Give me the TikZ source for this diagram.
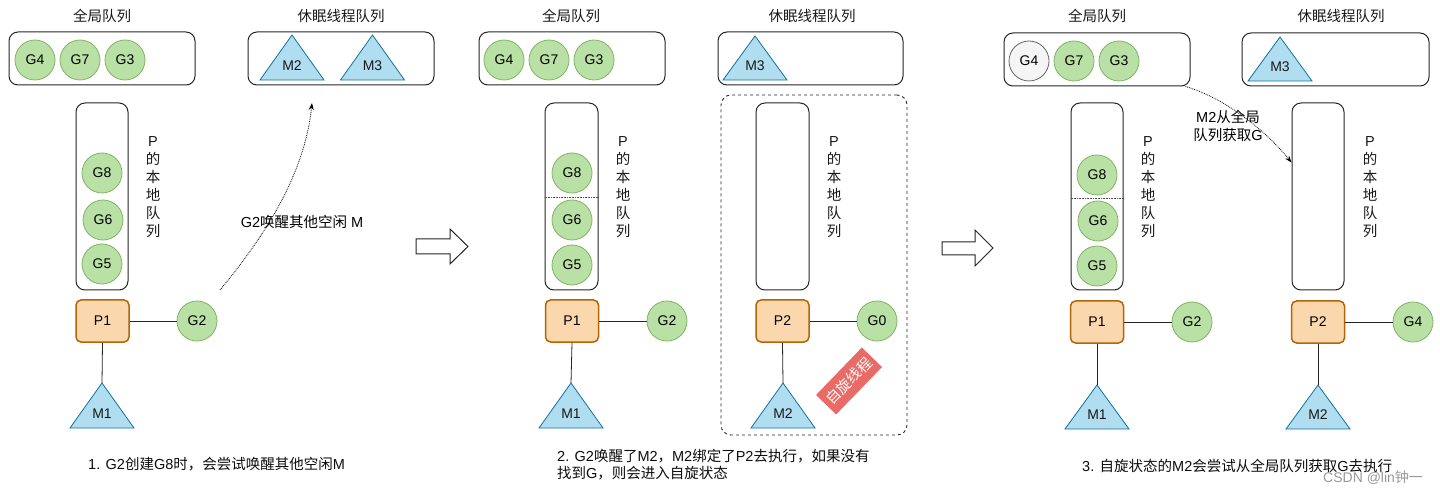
\documentclass[tikz,border=0pt]{standalone}
\usepackage{fontspec}
\setmainfont{Liberation Sans}
\newfontfamily\cjk{Noto Sans CJK SC}
\usetikzlibrary{arrows.meta}
\definecolor{gfill}{HTML}{B9E0A5}
\definecolor{gline}{HTML}{82B366}
\definecolor{tfill}{HTML}{B1DDF0}
\definecolor{tline}{HTML}{10739E}
\definecolor{pfill}{HTML}{FAD7AC}
\definecolor{pline}{HTML}{B46504}
\definecolor{rfill}{HTML}{EA6B66}
\definecolor{grayfill}{HTML}{F5F5F5}
\definecolor{grayline}{HTML}{666666}
\newcommand\plocal{P\\{\cjk 的}\\{\cjk 本}\\{\cjk 地}\\{\cjk 队}\\{\cjk 列}}
\newcommand\mtri[5]{%
  \draw[tri] (#2-32,#4) -- (#2,#3) coordinate (#1top) -- (#2+32,#4) -- cycle;
  \node[lbl] (#1) at (#2,#4-14) {#5};}
\begin{document}
\begin{tikzpicture}[x=1pt,y=-1pt,
  lbl/.style={inner sep=0, font=\fontsize{14}{16}\selectfont, text=black!90},
  gnode/.style={circle, draw=gline, fill=gfill, minimum size=40, inner sep=0, line width=0.8, font=\fontsize{14}{16}\selectfont},
  gray g/.style={gnode, draw=grayline, fill=grayfill},
  tri/.style={draw=tline, fill=tfill, line width=0.8, line join=miter},
  pbox/.style={rectangle, rounded corners=5, draw=pline, fill=pfill, line width=1.5, minimum width=53, minimum height=42, font=\fontsize{14}{16}\selectfont},
  qbox/.style={rectangle, rounded corners=9, draw=black!85, line width=1, inner sep=0},
  title/.style={font=\cjk\fontsize{14.5}{16}\selectfont, text=black!90},
  vtext/.style={align=center, font=\fontsize{14.5}{18}\selectfont, inner sep=0, text=black!90},
  link/.style={draw=black!85, line width=0.8},
  dotarrow/.style={densely dotted, line width=0.8, -{Stealth[length=7pt,width=5pt]}},
  hollow/.style={draw=black!85, line width=1, fill=white},
  caption/.style={anchor=west, inner sep=0, font=\fontsize{14.5}{17}\selectfont, align=left, text=black!95}]
\useasboundingbox (0,0) rectangle (1440,494);
\fill[white] (0,0) rectangle (1440,494);

% ================= Panel 1 =================
\node[title] (t11) at (102,16) {全局队列};
\node[title] (t12) at (341,16) {休眠线程队列};
\node[qbox, minimum width=186, minimum height=53] (gq1) at (102,58.5) {};
\node[gnode] (g41) at (35,60) {G4};
\node[gnode] (g71) at (80,60) {G7};
\node[gnode] (g31) at (125,60) {G3};
\node[qbox, minimum width=186, minimum height=53] (sq1) at (341,58.5) {};
\mtri{m2a}{292}{35}{80}{M2}
\mtri{m3a}{372.5}{35}{80}{M3}
\node[qbox, minimum width=52, minimum height=187] (lq1) at (102,196.5) {};
\node[gnode] (g81) at (102,173) {G8};
\node[gnode] (g61) at (103,220) {G6};
\node[gnode] (g51) at (102,264) {G5};
\node[vtext] (v1) at (153,187) {\plocal};
\node[pbox] (p11) at (102.5,321) {P1};
\node[gnode] (g21) at (197,321) {G2};
\draw[link] (p11.east) -- (g21.west);
\mtri{m11}{102}{383}{428}{M1}
\draw[link] (p11.south) -- (m11top);
\coordinate (wake0) at (220,290);
\coordinate (wake1) at (312,103);
\draw[dotarrow] (wake0) .. controls (270,230) and (305,170) .. (wake1);
\node[inner sep=0, font=\fontsize{14.5}{16}\selectfont] (wl) at (302,222) {G2{\cjk 唤醒其他空闲} M};
\node[caption] (c1) at (88,464) {1. G2{\cjk 创建}G8{\cjk 时，会尝试唤醒其他空闲}M};

% hollow arrows
\draw[hollow] (416,239) -- (450,239) -- (450,229) -- (468,246.5) -- (450,264) -- (450,254) -- (416,254) -- cycle;
\draw[hollow] (942,242) -- (975,242) -- (975,230) -- (993,248) -- (975,266) -- (975,255) -- (942,255) -- cycle;

% ================= Panel 2 =================
\node[title] (t21) at (571,16) {全局队列};
\node[title] (t22) at (812,16) {休眠线程队列};
\node[qbox, minimum width=186, minimum height=53] (gq2) at (572,58.5) {};
\node[gnode] (g42) at (504,60) {G4};
\node[gnode] (g72) at (549,60) {G7};
\node[gnode] (g32) at (594,60) {G3};
\node[qbox, minimum width=185, minimum height=53] (sq2) at (810.5,58.5) {};
\mtri{m3b}{755}{36}{80}{M3}
\node[draw=black!85, dashed, line width=0.9, rounded corners=10, minimum width=186, minimum height=340, inner sep=0] (spinbox) at (814,265) {};
\node[qbox, minimum width=53, minimum height=187] (lq21) at (571.5,196.5) {};
\draw[densely dotted, draw=black!70, line width=0.6] (lq21.west |- 0,197) -- (lq21.east |- 0,197);
\node[gnode] (g82) at (572,173) {G8};
\node[gnode] (g62) at (572,220) {G6};
\node[gnode] (g52) at (572,265) {G5};
\node[vtext] (v21) at (623,187) {\plocal};
\node[pbox] (p12) at (572,321) {P1};
\node[gnode] (g22) at (667,321) {G2};
\draw[link] (p12.east) -- (g22.west);
\mtri{m12}{571}{383}{428}{M1}
\draw[link] (p12.south) -- (m12top);
\node[qbox, minimum width=53, minimum height=187] (lq22) at (782.5,196.5) {};
\node[vtext] (v22) at (834,187) {\plocal};
\node[pbox] (p22) at (782.5,321) {P2};
\node[gnode] (g02) at (877,321) {G0};
\draw[link] (p22.east) -- (g02.west);
\mtri{m22}{783}{383}{428}{M2}
\draw[link] (p22.south) -- (m22top);
\node[fill=rfill, rotate=46, text=white, minimum width=66, minimum height=28, inner sep=0, font=\cjk\fontsize{14.5}{16}\selectfont] (spin) at (849,381) {自旋线程};
\node[caption] (c2) at (557,464.5) {2. G2{\cjk 唤醒了}M2{\cjk ，}M2{\cjk 绑定了}P2{\cjk 去执行，如果没有}\\{\cjk 找到}G{\cjk ，则会进入自旋状态}};

% ================= Panel 3 =================
\node[title] (t31) at (1097,16) {全局队列};
\node[title] (t32) at (1341,16) {休眠线程队列};
\node[qbox, minimum width=186, minimum height=53] (gq3) at (1097,59.5) {};
\node[gray g] (g43) at (1029,61) {G4};
\node[gnode] (g73) at (1074,61) {G7};
\node[gnode] (g33) at (1119,61) {G3};
\node[qbox, minimum width=187, minimum height=53] (sq3) at (1335.5,59.5) {};
\mtri{m3c}{1280}{37}{81}{M3}
\node[qbox, minimum width=52, minimum height=187] (lq31) at (1097,196.5) {};
\draw[densely dotted, draw=black!70, line width=0.6] (lq31.west |- 0,198) -- (lq31.east |- 0,198);
\node[gnode] (g83) at (1097,175) {G8};
\node[gnode] (g63) at (1098,221) {G6};
\node[gnode] (g53) at (1097,266) {G5};
\node[vtext] (v31) at (1148,187) {\plocal};
\node[pbox] (p13) at (1097,322) {P1};
\node[gnode] (g23) at (1192,322) {G2};
\draw[link] (p13.east) -- (g23.west);
\mtri{m13}{1097}{385}{429}{M1}
\draw[link] (p13.south) -- (m13top);
\node[qbox, minimum width=52, minimum height=187] (lq32) at (1318,196.5) {};
\node[vtext] (v32) at (1370,187) {\plocal};
\node[pbox] (p23) at (1318,322) {P2};
\node[gnode] (g4c) at (1413,322) {G4};
\draw[link] (p23.east) -- (g4c.west);
\mtri{m23}{1318}{385}{429}{M2}
\draw[link] (p23.south) -- (m23top);
\draw[dotarrow] ([xshift=-5pt]gq3.south east) .. controls (1225,98) and (1265,130) .. ([yshift=-60pt]lq32.north west);
\node[inner sep=0, align=center, font=\fontsize{14.5}{18}\selectfont] (fl) at (1228,126) {M2{\cjk 从全局}\\{\cjk 队列获取}G};
\node[caption] (c3) at (1082,466) {3. {\cjk 自旋状态的}M2{\cjk 会尝试从全局队列获取}G{\cjk 去执行}};
\node[anchor=west, inner sep=0, text=black!40, font=\fontsize{14}{16}\selectfont] (wm) at (1323,478) {CSDN @lin{\cjk 钟一}};
\end{tikzpicture}
\end{document}
